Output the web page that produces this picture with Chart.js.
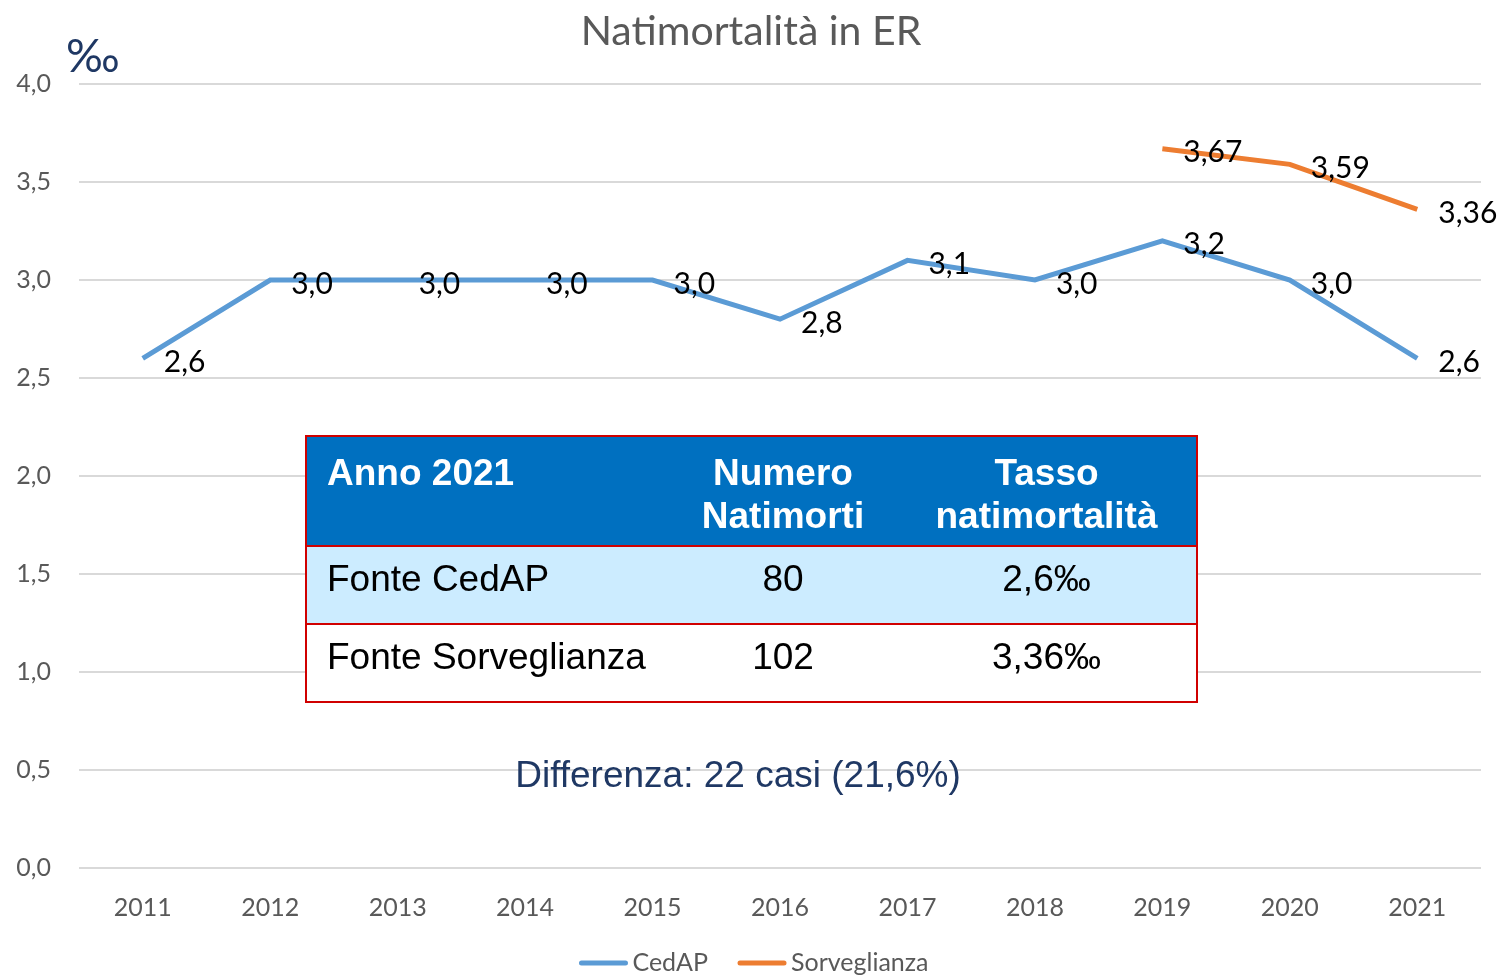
<!DOCTYPE html>
<html lang="it">
<head>
    <meta charset="UTF-8">
    <title>Natimortalità in ER</title>
    <script src="https://cdn.jsdelivr.net/npm/chart.js"></script>
    <style>
        body { margin: 0; background: #fff; }
        #wrap { position: relative; width: 1502px; height: 977px; overflow: hidden; }
        #tabella {
            position: absolute; left: 305px; top: 435px; width: 893px; table-layout: fixed;
            border-collapse: collapse; border: 2px solid #d00000;
            font-family: "Liberation Sans", Arial, sans-serif; font-size: 37px; color: #000;
        }
        #tabella td, #tabella th { border: none; border-top: 2px solid #d00000; padding: 0 0 0 20px; }
        #tabella th { background: #0070c0; color: #fff; font-weight: bold; height: 110px;
            vertical-align: top; padding-top: 14px; line-height: 43px; box-sizing: border-box; }
        #tabella td { height: 78px; vertical-align: middle; padding-bottom: 12px; box-sizing: border-box; white-space: nowrap; }
        #tabella tr.r1 td { background: #ccecff; }
        #tabella tr.r2 td { background: #fff; }
        #tabella .c2, #tabella .c3 { padding-left: 0; }
        .c1 { text-align: left; width: 363px; }
        .c2 { text-align: center; width: 228px; }
        .c3 { text-align: center; }
        #diff {
            position: absolute; left: 0; width: 1476px; top: 754px; text-align: center;
            font-family: "Liberation Sans", Arial, sans-serif; font-size: 37px; color: #1f3864;
        }
    </style>
</head>
<body>
<div id="wrap">
    <canvas id="natiChart" width="1502" height="977"></canvas>
    <table id="tabella"></table>
    <div id="diff"></div>
</div>
<script>
    // dati
    const titolo = 'Natimortalità in ER';
    const anni = ['2011', '2012', '2013', '2014', '2015', '2016', '2017', '2018', '2019', '2020', '2021'];
    const cedap = [2.6, 3.0, 3.0, 3.0, 3.0, 2.8, 3.1, 3.0, 3.2, 3.0, 2.6];
    const sorveglianza = [null, null, null, null, null, null, null, null, 3.67, 3.59, 3.36];
    const decimali = [1, 2];

    const intestazione = [['Anno 2021'], ['Numero', 'Natimorti'], ['Tasso', 'natimortalità']];
    const righe = [
        ['Fonte CedAP', '80', '2,6‰'],
        ['Fonte Sorveglianza', '102', '3,36‰']
    ];
    const differenza = 'Differenza: 22 casi (21,6%)';

    // tabella riassuntiva
    const tab = document.getElementById('tabella');
    const classi = ['c1', 'c2', 'c3'];
    let html = '<tr>' + intestazione.map((c, i) => '<th class="' + classi[i] + '">' + c.join('<br>') + '</th>').join('') + '</tr>';
    righe.forEach((r, k) => {
        html += '<tr class="r' + (k + 1) + '">' + r.map((c, i) => '<td class="' + classi[i] + '">' + c + '</td>').join('') + '</tr>';
    });
    tab.innerHTML = html;
    document.getElementById('diff').textContent = differenza;

    const virgola = (v, d) => v.toFixed(d).replace('.', ',');

    // titolo, etichette dati, simbolo per mille e legenda in basso
    const etichette = {
        id: 'etichette',
        afterDatasetsDraw(chart) {
            const ctx = chart.ctx;
            ctx.save();
            ctx.font = '41px Lato';
            ctx.fillStyle = '#595959';
            ctx.textAlign = 'center';
            ctx.textBaseline = 'middle';
            ctx.fillText(titolo, 751, 32);

            ctx.font = '30px Lato';
            ctx.fillStyle = '#000';
            ctx.textAlign = 'left';
            chart.data.datasets.forEach((ds, i) => {
                chart.getDatasetMeta(i).data.forEach((p, j) => {
                    const v = ds.data[j];
                    if (v === null) return;
                    ctx.fillText(virgola(v, decimali[i]), p.x + 21, p.y + 4);
                });
            });
            ctx.font = '46px Lato';
            ctx.fillStyle = '#1f3864';
            ctx.textBaseline = 'alphabetic';
            ctx.fillText('‰', 66, 72);

            // legenda
            ctx.font = '25px Lato';
            ctx.textBaseline = 'middle';
            ctx.lineWidth = 5;
            ctx.lineCap = 'round';
            const ds = chart.data.datasets;
            const larghezze = ds.map(d => 48 + 5 + ctx.measureText(d.label).width);
            const totale = larghezze.reduce((a, b) => a + b, 0) + 30 * (ds.length - 1);
            let x = 754 - totale / 2;
            const y = 963;
            ds.forEach((d, i) => {
                ctx.strokeStyle = d.borderColor;
                ctx.beginPath();
                ctx.moveTo(x + 2, y);
                ctx.lineTo(x + 46, y);
                ctx.stroke();
                ctx.fillStyle = '#595959';
                ctx.fillText(d.label, x + 53, y);
                x += larghezze[i] + 30;
            });
            ctx.restore();
        }
    };

    const ctx = document.getElementById('natiChart').getContext('2d');
    new Chart(ctx, {
        type: 'line',
        data: {
            labels: anni,
            datasets: [
                { label: 'CedAP', data: cedap, borderColor: '#5b9bd5', backgroundColor: '#5b9bd5',
                  borderWidth: 5, pointRadius: 0, tension: 0 },
                { label: 'Sorveglianza', data: sorveglianza, borderColor: '#ed7d31', backgroundColor: '#ed7d31',
                  borderWidth: 5, pointRadius: 0, tension: 0 }
            ]
        },
        options: {
            responsive: false,
            animation: false,
            layout: { padding: { left: 0, right: 21, top: 84, bottom: 0 } },
            plugins: {
                title: { display: false },
                legend: { display: false },
                tooltip: { enabled: false }
            },
            scales: {
                x: {
                    offset: true,
                    grid: { display: false },
                    border: { display: false },
                    ticks: { color: '#595959', font: { family: 'Lato', size: 25 }, padding: 17, maxRotation: 0 },
                    afterFit: s => { s.height = 109; }
                },
                y: {
                    min: 0, max: 4,
                    grid: { color: '#d9d9d9', lineWidth: 2, drawTicks: false },
                    border: { display: false },
                    ticks: {
                        stepSize: 0.5, color: '#595959', font: { family: 'Lato', size: 25 }, padding: 28,
                        callback: v => virgola(v, 1)
                    },
                    afterFit: s => { s.width = 79; }
                }
            }
        },
        plugins: [etichette]
    });
</script>
</body>
</html>
